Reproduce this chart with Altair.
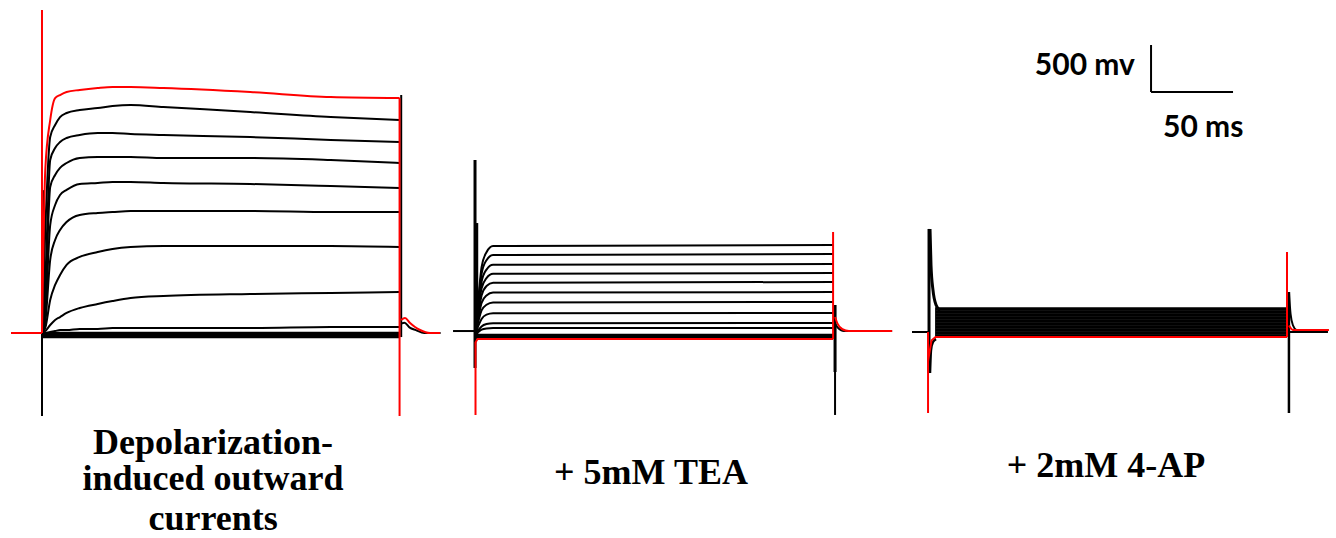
import altair as alt
import pandas as pd

RED = "#ff0000"
BLACK = "#000000"

# ---------------- scales (time in ms, current in mV as the scale bar says)
Y_DOMAIN = [-2181, 3543]
X_DOMAINS = {"ctrl": [-25.6, 245.7], "tea": [-18.3, 259.1], "ap": [-17.7, 248.2]}
WIDTHS = {"ctrl": 445, "tea": 455, "ap": 436}
HEIGHT = 538

# ---------------- Panel 1: depolarization-induced outward currents
T1 = [0, 2, 5, 8, 11, 15, 23, 34, 43, 54, 74, 127, 176, 218]
P1_RED = [0, 1734, 2266, 2500, 2532, 2564, 2586, 2607, 2617, 2617, 2607, 2564, 2511, 2500]
P1_BLACK = [
    [0, 1096, 2085, 2213, 2298, 2341, 2373, 2394, 2415, 2426, 2405, 2351, 2298, 2266],
    [0, 564, 1841, 1968, 2032, 2075, 2107, 2128, 2128, 2117, 2107, 2085, 2054, 2032],
    [0, 351, 1553, 1681, 1756, 1809, 1862, 1873, 1873, 1873, 1862, 1862, 1841, 1809],
    [0, 192, 1149, 1362, 1468, 1522, 1585, 1596, 1607, 1607, 1596, 1585, 1564, 1543],
    [0, 117, 777, 990, 1096, 1181, 1256, 1277, 1287, 1298, 1298, 1298, 1287, 1287],
    [0, 53, 351, 511, 617, 724, 809, 862, 894, 915, 926, 926, 926, 915],
    [0, 21, 85, 138, 170, 213, 266, 309, 340, 372, 394, 415, 426, 436],
    [0, 0, 11, 21, 32, 32, 43, 43, 53, 53, 53, 53, 64, 64],
]
P1_BAND = [0, -11, -21, -32, -43]
P1_END = 218
P1_PRE_T = [-18.9, 0]
P1_RED_SPIKE = [0, 3437]
P1_RED_END = [2500, -883]
P1_BLACK_DOWN = [0, -883]
P1_BLACK_ONSET = [-43, 1520]
P1_BLACK_END = [2532, -43]
P1_RED_TAIL_T = [218.9, 221.3, 224.4, 227.4, 230.5, 236.6, 242.7]
P1_RED_TAIL_V = [138, 160, 106, 64, 32, 0, 0]
P1_BLACK_TAIL_T = [219, 221, 224, 228, 233, 243]
P1_BLACK_TAIL_V = [100, 110, 60, 30, 0, 0]

# ---------------- Panel 2: + 5mM TEA
T2 = [0, 2, 4, 7, 11, 218.3]
P2_BLACK = [
    [-21, 360, 700, 860, 925, 936],
    [-21, 320, 630, 775, 830, 841],
    [-21, 280, 545, 675, 725, 734],
    [-21, 240, 475, 585, 630, 638],
    [-21, 200, 400, 500, 535, 543],
    [-21, 160, 320, 400, 430, 436],
    [-21, 120, 240, 300, 325, 330],
    [-21, 75, 150, 195, 210, 213],
    [-21, 30, 70, 95, 104, 106],
    [-21, 10, 35, 48, 52, 53],
]
P2_BAND = [-21, -32, -43, -53]
P2_END = 218.3
P2_PRE_T = [-13.4, 0]
P2_BASE = 21
P2_SPIKE = [1841, -372]
P2_SPIKE2 = [1170, -21]
P2_BLACK_END = [298, -872]
P2_BLACK_END_THICK = [298, -415]
P2_BLACK_TAIL_T = [219.5, 221, 225, 254.3]
P2_BLACK_TAIL_V = [100, 60, 21, 21]
P2_RED_T = [0.3, 0.3, 1.5, 218.3]
P2_RED_V = [-872, -100, -64, -64]
P2_RED_END = [1075, -64]
P2_RED_TAIL_T = [219.5, 221, 224, 228, 254.3]
P2_RED_TAIL_V = [170, 100, 40, 21, 21]

# ---------------- Panel 3: + 2mM 4-AP
P3_BAND = [255, 223, 191, 160, 128, 96, 64, 32, 0, -32]
P3_BAND_T = [3.7, 218.3]
P3_PRE_T = [-10.4, 0]
P3_BASE = 11
P3_SPIKE = [1107, -426]
P3_DECAY_UP_T = [0.6, 1.2, 2.4, 4.3, 6.7]
P3_DECAY_UP_V = [1107, 724, 458, 298, 240]
P3_DECAY_DN_T = [0.6, 1.2, 2.4, 4.3]
P3_DECAY_DN_V = [-426, -181, -96, -64]
P3_BLACK_END = [436, -851]
P3_BLACK_TAIL_UP_T = [219.5, 220.5, 222, 224]
P3_BLACK_TAIL_UP_V = [436, 200, 80, 32]
P3_TAIL_T = [219.5, 243.3]
P3_RED_DOWN = [11, -851]
P3_RED_T = [-0.6, 1.5, 4, 218.3]
P3_RED_V = [-300, -80, -43, -43]
P3_RED_END = [-43, 862]
P3_RED_TAIL_T = [219.5, 222, 243.9]
P3_RED_TAIL_V = [80, 32, 32]

# ---------------- texts
LABEL_CTRL = ["Depolarization-", "induced outward", "currents"]
LABEL_CTRL_T = 104.3
LABEL_CTRL_V = [-1287, -1670, -2096]
LABEL_TEA = "+ 5mM TEA"
LABEL_TEA_T, LABEL_TEA_V = 107.3, -1610
LABEL_AP = "+ 2mM 4-AP"
LABEL_AP_T, LABEL_AP_V = 107.9, -1529

SCALE_T0, SCALE_V0 = 135.4, 2564
SCALE_DT, SCALE_DV = 50, 500
SCALE_V_TEXT = "500 mv"
SCALE_T_TEXT = "50 ms"
SCALE_V_TEXT_POS = (125.6, 2745)
SCALE_T_TEXT_POS = (142.7, 2085)

# ---------------- build table
rows = []


def add(panel, name, ts, vs, color, width, smooth=False):
    for i, (t, v) in enumerate(zip(ts, vs)):
        rows.append(dict(panel=panel, series=name, i=i, t=t, v=v, color=color,
                         w=width, kind="s" if smooth else "l"))


# panel 1
add("ctrl", "pre", P1_PRE_T, [0, 0], RED, 2)
for k, b in enumerate(P1_BAND):
    add("ctrl", f"band{k}", [0, P1_END], [b, b], BLACK, 2.4)
for k, tr in enumerate(P1_BLACK):
    add("ctrl", f"tr{k}", T1, tr, BLACK, 2, True)
add("ctrl", "onset", [0.8, 0.8], P1_BLACK_ONSET, BLACK, 3)
add("ctrl", "down", [0, 0], P1_BLACK_DOWN, BLACK, 2)
add("ctrl", "endb", [P1_END + 1, P1_END + 1], P1_BLACK_END, BLACK, 2)
add("ctrl", "tailb", P1_BLACK_TAIL_T, P1_BLACK_TAIL_V, BLACK, 2, True)
add("ctrl", "red", T1, P1_RED, RED, 2, True)
add("ctrl", "redspike", [0, 0], P1_RED_SPIKE, RED, 2)
add("ctrl", "redend", [P1_END, P1_END], P1_RED_END, RED, 2)
add("ctrl", "redtail", P1_RED_TAIL_T, P1_RED_TAIL_V, RED, 2, True)

# panel 2
add("tea", "pre", P2_PRE_T, [P2_BASE, P2_BASE], BLACK, 2)
for k, b in enumerate(P2_BAND):
    add("tea", f"band{k}", [0, P2_END], [b, b], BLACK, 2.4)
for k, tr in enumerate(P2_BLACK):
    add("tea", f"tr{k}", T2, tr, BLACK, 2, True)
add("tea", "spike", [0, 0], P2_SPIKE, BLACK, 3)
add("tea", "spike2", [1.2, 1.2], P2_SPIKE2, BLACK, 2.5)
add("tea", "endb", [P2_END + 1.2, P2_END + 1.2], P2_BLACK_END, BLACK, 2)
add("tea", "endb2", [P2_END + 1.2, P2_END + 1.2], P2_BLACK_END_THICK, BLACK, 3)
add("tea", "tailb", P2_BLACK_TAIL_T, P2_BLACK_TAIL_V, BLACK, 2, True)
add("tea", "red", P2_RED_T, P2_RED_V, RED, 2)
add("tea", "redend", [P2_END, P2_END], P2_RED_END, RED, 2)
add("tea", "redtail", P2_RED_TAIL_T, P2_RED_TAIL_V, RED, 2, True)

# panel 3
add("ap", "pre", P3_PRE_T, [P3_BASE, P3_BASE], BLACK, 2)
for k, b in enumerate(P3_BAND):
    add("ap", f"band{k}", P3_BAND_T, [b, b], BLACK, 3.6)
add("ap", "spike", [0, 0], P3_SPIKE, BLACK, 3)
add("ap", "decup", P3_DECAY_UP_T, P3_DECAY_UP_V, BLACK, 3, True)
add("ap", "decdn", P3_DECAY_DN_T, P3_DECAY_DN_V, BLACK, 2.5, True)
add("ap", "endb", [219.5, 219.5], P3_BLACK_END, BLACK, 2.5)
add("ap", "tailup", P3_BLACK_TAIL_UP_T, P3_BLACK_TAIL_UP_V, BLACK, 2, True)
add("ap", "tail", P3_TAIL_T, [P3_BASE, P3_BASE], BLACK, 2)
add("ap", "reddown", [-0.6, -0.6], P3_RED_DOWN, RED, 2)
add("ap", "red", P3_RED_T, P3_RED_V, RED, 2)
add("ap", "redend", [218.3, 218.3], P3_RED_END, RED, 2)
add("ap", "redtail", P3_RED_TAIL_T, P3_RED_TAIL_V, RED, 2, True)

df = pd.DataFrame(rows)

labels = pd.DataFrame(
    [dict(panel="ctrl", t=LABEL_CTRL_T, v=v, text=s) for s, v in zip(LABEL_CTRL, LABEL_CTRL_V)]
    + [dict(panel="tea", t=LABEL_TEA_T, v=LABEL_TEA_V, text=LABEL_TEA),
       dict(panel="ap", t=LABEL_AP_T, v=LABEL_AP_V, text=LABEL_AP)]
)

bar = pd.DataFrame([
    dict(t=SCALE_T0, t2=SCALE_T0, v=SCALE_V0 + SCALE_DV, v2=SCALE_V0),
    dict(t=SCALE_T0, t2=SCALE_T0 + SCALE_DT, v=SCALE_V0, v2=SCALE_V0),
])
bar_text = pd.DataFrame([
    dict(t=SCALE_V_TEXT_POS[0], v=SCALE_V_TEXT_POS[1], text=SCALE_V_TEXT, align="right"),
    dict(t=SCALE_T_TEXT_POS[0], v=SCALE_T_TEXT_POS[1], text=SCALE_T_TEXT, align="left"),
])


def make_panel(pid):
    xs = alt.Scale(domain=X_DOMAINS[pid], nice=False, zero=False)
    ys = alt.Scale(domain=Y_DOMAIN, nice=False, zero=False)
    x = alt.X("t:Q", scale=xs, axis=None)
    y = alt.Y("v:Q", scale=ys, axis=None)
    d = df[df.panel == pid]
    layers = []
    for color in [BLACK, RED]:
        for kind, interp in [("l", "linear"), ("s", "monotone")]:
            sub = d[(d.color == color) & (d.kind == kind)]
            if len(sub) == 0:
                continue
            layers.append(
                alt.Chart(sub).mark_line(interpolate=interp, clip=True, strokeCap="butt").encode(
                    x=x, y=y,
                    detail="series:N",
                    order="i:Q",
                    color=alt.Color("color:N", scale=None),
                    strokeWidth=alt.StrokeWidth("w:Q", scale=None),
                )
            )
    lab = labels[labels.panel == pid]
    layers.append(
        alt.Chart(lab).mark_text(font="Liberation Serif", fontWeight="bold", fontSize=36,
                                 align="center", baseline="alphabetic", color=BLACK).encode(
            x=x, y=y, text="text:N")
    )
    if pid == "ap":
        layers.append(
            alt.Chart(bar).mark_rule(color=BLACK, strokeWidth=2).encode(
                x=x, x2="t2:Q", y=y, y2="v2:Q")
        )
        for _, r in bar_text.iterrows():
            layers.append(
                alt.Chart(bar_text[bar_text.text == r["text"]]).mark_text(
                    font="Lato", fontWeight="bold", fontSize=30, align=r["align"],
                    baseline="alphabetic", color=BLACK).encode(x=x, y=y, text="text:N")
            )
    return alt.layer(*layers).properties(width=WIDTHS[pid], height=HEIGHT)


chart = alt.hconcat(
    make_panel("ctrl"), make_panel("tea"), make_panel("ap"),
    spacing=0, bounds="flush",
).properties(padding=0, background="white").configure_view(stroke=None)

chart.save("out.html", embed_options={"renderer": "svg", "actions": False})
